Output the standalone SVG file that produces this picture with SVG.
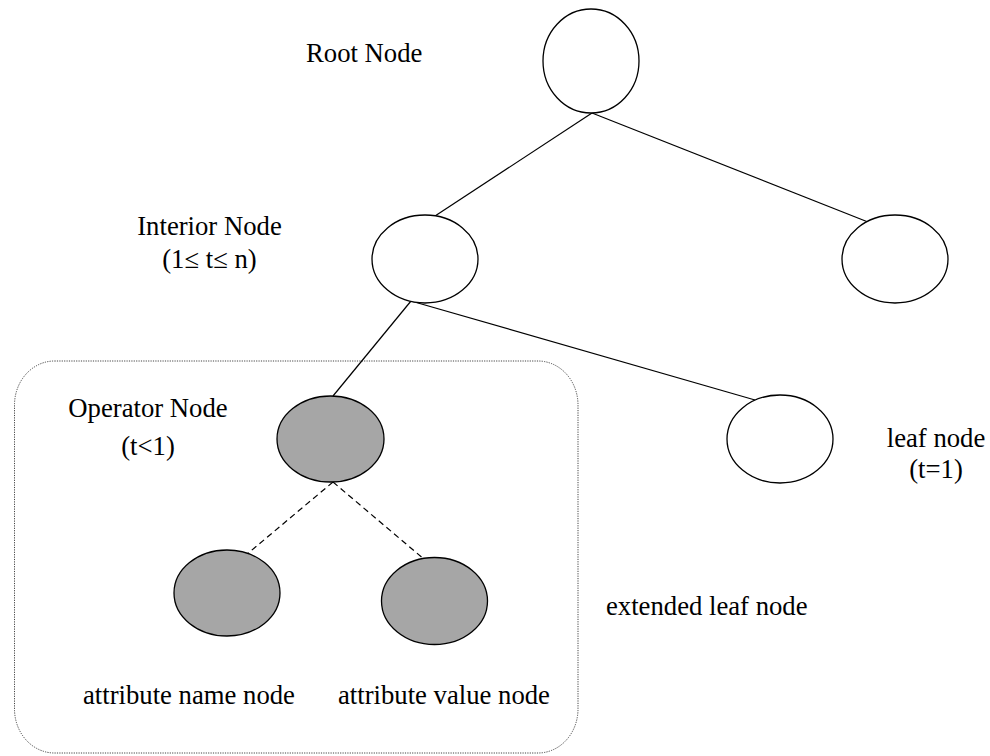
<svg xmlns="http://www.w3.org/2000/svg" width="990" height="756" viewBox="0 0 990 756">
  <style>
    .lbl { font-family: "Liberation Serif", "Times New Roman", serif; font-size: 26.7px; fill: #000; }
    .mid { text-anchor: middle; }
    .node { stroke: #000; stroke-width: 1.3; fill: #fff; }
    .node.ext { fill: #a6a6a6; }
    .edge { stroke: #000; stroke-width: 1.2; fill: none; }
    .edge.dash { stroke-dasharray: 6 4; }
    .frame { stroke: #444; stroke-width: 1; stroke-dasharray: 1.2 1.2; fill: none; }
  </style>

  <!-- extended leaf node group frame -->
  <rect class="frame" x="14.5" y="361" width="563.5" height="392" rx="40" ry="44"/>

  <!-- tree edges -->
  <g id="connectors">
    <line class="edge" x1="592" y1="113" x2="435" y2="216"/>
    <line class="edge" x1="592" y1="113" x2="868" y2="222"/>
    <line class="edge" x1="411" y1="301" x2="333" y2="396"/>
    <line class="edge" x1="411" y1="301" x2="755" y2="400"/>
    <line class="edge dash" x1="333" y1="482" x2="246" y2="555"/>
    <line class="edge dash" x1="333" y1="482" x2="425" y2="560"/>
  </g>

  <g id="root">
    <ellipse class="node" cx="591" cy="61" rx="48" ry="52"/>
    <text class="lbl" x="306" y="62">Root Node</text>
  </g>

  <g id="interior">
    <ellipse class="node" cx="425" cy="259" rx="53" ry="44"/>
    <text class="lbl mid" x="209.5" y="235">Interior Node</text>
    <text class="lbl mid" x="209.5" y="268">(1≤ t≤ n)</text>
  </g>

  <g id="right-child">
    <ellipse class="node" cx="895" cy="259" rx="53" ry="44"/>
  </g>

  <g id="leaf">
    <ellipse class="node" cx="780" cy="439" rx="53" ry="44"/>
    <text class="lbl mid" x="936" y="447">leaf node</text>
    <text class="lbl mid" x="936" y="478">(t=1)</text>
  </g>

  <g id="operator">
    <ellipse class="node ext" cx="330.5" cy="439" rx="53.5" ry="43"/>
    <text class="lbl mid" x="148" y="417">Operator Node</text>
    <text class="lbl mid" x="148" y="455">(t&lt;1)</text>
  </g>

  <g id="attr-name">
    <ellipse class="node ext" cx="227" cy="593" rx="53" ry="43"/>
    <text class="lbl" x="83" y="704">attribute name node</text>
  </g>

  <g id="attr-value">
    <ellipse class="node ext" cx="434.5" cy="601" rx="53" ry="43.5"/>
    <text class="lbl" x="338" y="704">attribute value node</text>
  </g>

  <g id="extended-label">
    <text class="lbl" x="606" y="615">extended leaf node</text>
  </g>
</svg>
